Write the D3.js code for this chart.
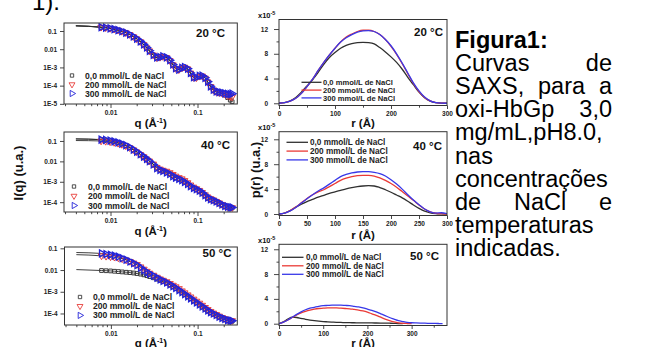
<!DOCTYPE html>
<html><head><meta charset="utf-8">
<script src="https://cdn.jsdelivr.net/npm/d3@7"></script>
<style>
body{margin:0;background:#fff;}
svg{display:block;}
text{font-family:"Liberation Sans",Arial,Helvetica,sans-serif;}
</style></head>
<body>
<svg id="chart" width="645" height="347"></svg>
<script>
// ---------------- DATA ----------------
const SERIES_NAMES = ["0,0 mmol/L de NaCl", "200 mmol/L de NaCl", "300 mmol/L de NaCl"];
const TEMPS = ["20 °C", "40 °C", "50 °C"];

// SAXS scattering vector (Å^-1)
const Q = [0.0078,0.0088,0.0099,0.011,0.0122,0.0135,0.015,0.0166,0.0183,0.020,0.022,0.024,0.026,0.028,0.031,0.034,0.037,0.040,0.044,0.048,0.052,0.056,0.061,0.066,0.071,0.077,0.083,0.090,0.097,0.105,0.113,0.122,0.131,0.141,0.152,0.164,0.177,0.191,0.206,0.222,0.238,0.250];
const FIT_Q = 0.004;

const I20_0   = [0.160,0.150,0.138,0.125,0.111,0.096,0.080,0.064,0.049,0.037,0.026,0.018,0.012,0.0080,0.0048,0.0034,0.0036,0.0040,0.0035,0.0024,0.0014,0.00088,0.00074,0.00092,0.00102,0.00082,0.00048,0.00028,0.00027,0.00033,0.00034,0.00026,0.00016,0.000088,0.000056,0.000044,0.000040,0.000037,0.000030,0.000022,0.000016,0.000013];
const I20_200 = [0.161,0.151,0.139,0.126,0.111,0.096,0.080,0.064,0.049,0.037,0.026,0.018,0.012,0.0081,0.0048,0.0034,0.0036,0.0040,0.0035,0.0024,0.0014,0.00088,0.00075,0.00093,0.00103,0.00083,0.00049,0.00028,0.00027,0.00033,0.00034,0.00026,0.00016,0.00009,0.000058,0.000046,0.000042,0.000039,0.000034,0.000028,0.000025,0.000024];
const I20_300 = [0.162,0.152,0.140,0.127,0.112,0.097,0.081,0.065,0.050,0.038,0.027,0.0185,0.0124,0.0082,0.0049,0.0035,0.0037,0.0041,0.0036,0.0025,0.00145,0.0009,0.00076,0.00094,0.00105,0.00085,0.0005,0.00029,0.00028,0.00034,0.00035,0.00027,0.000165,0.000092,0.00006,0.000048,0.000044,0.000042,0.000038,0.000035,0.000034,0.000036];
const I0_20 = [0.190, 0.193, 0.196];

const I40_0   = [0.115,0.110,0.102,0.093,0.083,0.072,0.060,0.048,0.037,0.029,0.022,0.017,0.013,0.0102,0.0072,0.0048,0.0039,0.0034,0.0030,0.0025,0.0020,0.0016,0.0014,0.00122,0.00100,0.00078,0.00060,0.00049,0.00043,0.00036,0.00028,0.00021,0.00016,0.000135,0.00012,0.000104,0.000088,0.000074,0.000064,0.000058,0.000054,0.000052];
const I40_200 = [0.100,0.096,0.091,0.085,0.077,0.068,0.058,0.047,0.037,0.029,0.022,0.017,0.013,0.0103,0.0074,0.0051,0.0042,0.0037,0.0033,0.0028,0.0023,0.0019,0.0016,0.0014,0.00115,0.0009,0.0007,0.00055,0.00046,0.00038,0.0003,0.00023,0.00018,0.00015,0.00013,0.00011,0.000093,0.000078,0.000067,0.00006,0.000056,0.000054];
const I40_300 = [0.117,0.112,0.104,0.095,0.085,0.074,0.062,0.050,0.038,0.030,0.0225,0.0172,0.0132,0.0102,0.0071,0.0047,0.0038,0.0034,0.0029,0.0024,0.0019,0.0016,0.0014,0.0012,0.00098,0.00078,0.00061,0.0005,0.00044,0.00037,0.00029,0.00022,0.00017,0.00014,0.000125,0.00011,0.000092,0.000078,0.000066,0.00006,0.000056,0.000055];
const I0_40 = [0.125, 0.105, 0.127];

const I50_0   = [0.0095,0.0093,0.0091,0.0088,0.0085,0.0082,0.0079,0.0076,0.0073,0.0069,0.0065,0.0060,0.0055,0.0050,0.0044,0.0038,0.0033,0.0029,0.0025,0.0021,0.0017,0.0014,0.00115,0.00092,0.00076,0.0006,0.00048,0.00038,0.00031,0.00025,0.0002,0.00016,0.00013,0.00011,0.000095,0.00008,0.000068,0.00006,0.000053,0.000048,0.000045,0.000044];
const I50_200 = [0.045,0.043,0.041,0.039,0.036,0.033,0.029,0.025,0.021,0.018,0.014,0.011,0.0088,0.0072,0.0058,0.0047,0.0039,0.0034,0.0029,0.0024,0.002,0.0017,0.0014,0.0011,0.0009,0.00072,0.00058,0.00046,0.00037,0.0003,0.00024,0.00019,0.000152,0.000125,0.000105,0.00009,0.000076,0.000066,0.000058,0.000052,0.000048,0.000047];
const I50_300 = [0.058,0.054,0.050,0.046,0.041,0.035,0.030,0.025,0.021,0.017,0.013,0.0098,0.0081,0.0068,0.0055,0.0045,0.0037,0.0032,0.0027,0.0022,0.0018,0.0015,0.0012,0.00095,0.00078,0.00062,0.0005,0.0004,0.00032,0.00026,0.00021,0.00017,0.000138,0.000115,0.0001,0.000085,0.000072,0.000063,0.000056,0.00005,0.000047,0.000046];
const I0_50 = [0.0105, 0.051, 0.064];

// p(r) distance axis (Å)
const R = [0,10,20,30,40,50,60,70,80,90,100,110,120,130,140,150,160,170,180,190,200,210,220,230,240,250,260,270,280,290,300,310,320,330,340,350,360,370];

const P20_0   = [0,0.1,0.4,0.95,1.8,2.8,3.8,5.0,6.3,7.4,8.2,8.9,9.35,9.65,9.8,9.85,9.8,9.6,9.0,8.3,7.5,6.6,5.5,4.2,3.0,1.8,0.9,0.35,0.1,0.02,0];
const P20_200 = [0,0.1,0.35,0.8,1.6,2.7,3.9,5.3,6.6,7.8,8.9,9.9,10.7,11.2,11.6,11.8,11.8,11.6,11.1,10.3,9.2,7.9,6.4,4.8,3.2,1.9,0.95,0.38,0.1,0.02,0];
const P20_300 = [0,0.1,0.35,0.8,1.6,2.7,3.9,5.3,6.6,7.8,8.9,9.9,10.6,11.1,11.5,11.7,11.75,11.6,11.1,10.3,9.3,8.0,6.5,4.9,3.3,2.0,1.0,0.4,0.1,0.02,0];

const P40_0   = [0,0.15,0.55,1.1,1.6,2.0,2.35,2.7,3.0,3.3,3.55,3.8,4.05,4.25,4.4,4.5,4.55,4.5,4.25,3.9,3.5,3.05,2.6,2.05,1.45,0.9,0.45,0.2,0.08,0.03,0];
const P40_200 = [0,0.15,0.55,1.1,1.8,2.5,3.1,3.55,3.9,4.4,4.9,5.4,5.75,6.0,6.15,6.2,6.2,6.1,5.8,5.4,4.9,4.3,3.6,2.9,2.2,1.45,0.8,0.35,0.12,0.05,0];
const P40_300 = [0,0.15,0.5,1.05,1.75,2.45,3.1,3.7,4.2,4.8,5.4,6.0,6.35,6.6,6.75,6.8,6.8,6.7,6.5,6.1,5.5,4.8,4.0,3.1,2.25,1.5,0.8,0.35,0.15,0.2,0.05];

const P50_0   = [0,0.3,0.75,1.05,1.0,0.85,0.7,0.58,0.48,0.4,0.34,0.3,0.26,0.22,0.2,0.17,0.16,0.15,0.14,0.13,0.12,0.12,0.11,0.1,0.09,0.08,0.06,0.03,0.0];
const P50_200 = [0,0.25,0.6,1.0,1.4,1.75,2.0,2.2,2.35,2.45,2.5,2.55,2.55,2.55,2.5,2.45,2.4,2.3,2.2,2.05,1.85,1.6,1.35,1.05,0.75,0.5,0.3,0.15,0.07,0.03,0];
const P50_300 = [0,0.25,0.6,1.05,1.5,1.9,2.25,2.5,2.65,2.8,2.9,2.95,3.0,3.0,3.0,2.95,2.9,2.8,2.7,2.55,2.35,2.15,1.9,1.6,1.3,1.0,0.75,0.5,0.35,0.22,0.15,0.12,0.1,0.08,0.06,0.05,0.03,0.0];

// tick values / labels
const SAXS_X_MAJOR = [0.01, 0.1];
const SAXS_X_LABELS = ["0.01", "0.1"];
const SAXS_X_MINOR = [0.003,0.004,0.005,0.006,0.007,0.008,0.009,0.02,0.03,0.04,0.05,0.06,0.07,0.08,0.09,0.2];
const SAXS_Y_TICKS = [0.1, 0.01, 1e-3, 1e-4, 1e-5];
const SAXS_Y_LABELS = ["0.1", "0.01", "1E-3", "1E-4", "1E-5"];
const PR_Y_MAJOR = [0, 4, 8, 12];
const PR_Y_MINOR = [2, 6, 10];
const PR_X_TICKS_A = [0, 100, 200, 300];
const PR_X_MINOR_A = [50, 150, 250];
const PR_X_TICKS_B = [0, 50, 100, 150, 200, 250, 300];
const PR_X_TICKS_C = [0, 100, 200, 300];
const PR_X_MINOR_C = [50, 150, 250, 350];

const CAPTION = [
  {words:["Figura1:"], bold:true, justify:false},
  {words:["Curvas","de"], justify:true},
  {words:["SAXS,","para","a"], justify:true},
  {words:["oxi-HbGp","3,0"], justify:true},
  {words:["mg/mL,pH8.0,"], justify:false},
  {words:["nas"], justify:false},
  {words:["concentrações"], justify:false},
  {words:["de","NaCl","e"], justify:true},
  {words:["temperaturas"], justify:false},
  {words:["indicadas."], justify:false}
];

// ---------------- STYLE / LAYOUT ----------------
const COLORS = ["#3a3a3a", "#e8403c", "#2424d8"];
const STROKES = [1.0, 1.0, 1.3];
const LINE_COLORS = ["#303030", "#ea3a36", "#3838e8"];
const SYMS = [
  {type:d3.symbolSquare, size:14, rot:0},
  {type:d3.symbolTriangle, size:19, rot:180},
  {type:d3.symbolTriangle, size:21, rot:90}
];
const Q_DOMAIN = [0.00292, 0.2867];

const svg = d3.select("#chart");
const defs = svg.append("defs");

function txt(g, x, y, s, size, o = {}) {
  return g.append("text").attr("x", x).attr("y", y).text(s)
    .attr("font-size", size).attr("font-weight", o.bold ? "bold" : "normal")
    .attr("text-anchor", o.anchor || "start").attr("fill", o.fill || "#111");
}

function styleAxis(ax, size) {
  ax.select(".domain").remove();
  ax.selectAll("line").attr("stroke", "#333").attr("stroke-width", 0.9);
  ax.selectAll("text").attr("font-size", size).attr("font-weight", "bold")
    .attr("fill", "#222").attr("font-family", '"Liberation Sans",Arial,sans-serif');
}

const saxsPanels = [
  {box:[64,23,237.3,104], yDomain:[9.8e-6,0.275], nY:5, series:[I20_0,I20_200,I20_300], i0:I0_20,
   leg:{sx:72, tx:85, y:75.5, dy:9}, temp:{x:225, y:37}, title:127},
  {box:[64,132,237.3,212], yDomain:[3.3e-5,0.275], nY:4, series:[I40_0,I40_200,I40_300], i0:I0_40,
   leg:{sx:74, tx:88, y:186.5, dy:9.5}, temp:{x:230, y:149}, title:235},
  {box:[64.5,247,237.3,325], yDomain:[2.95e-5,0.115], nY:4, series:[I50_0,I50_200,I50_300], i0:I0_50,
   leg:{sx:80, tx:93, y:297, dy:9.2}, temp:{x:231.5, y:257}, title:347}
];

saxsPanels.forEach((p, i) => {
  const [x0, y0, x1, y1] = p.box;
  const x = d3.scaleLog().domain(Q_DOMAIN).range([x0, x1]);
  const y = d3.scaleLog().domain(p.yDomain).range([y1, y0]);
  const g = svg.append("g");
  const cid = "clipS" + i;
  defs.append("clipPath").attr("id", cid).append("rect")
    .attr("x", x0).attr("y", y0).attr("width", x1 - x0).attr("height", y1 - y0);
  const plot = g.append("g").attr("clip-path", `url(#${cid})`);
  const line = d3.line().x(d => x(d[0])).y(d => y(d[1])).curve(d3.curveMonotoneX);
  p.series.forEach((s, k) => {
    const pts = [[FIT_Q, p.i0[k]]].concat(Q.map((q, j) => [q, s[j]]));
    plot.append("path").datum(pts).attr("d", line).attr("fill", "none")
      .attr("stroke", "#2a2a2a").attr("stroke-width", 0.9);
  });
  p.series.forEach((s, k) => {
    const sy = SYMS[k];
    plot.append("g").selectAll("path").data(Q.map((q, j) => [q, s[j]])).join("path")
      .attr("d", d3.symbol().type(sy.type).size(sy.size))
      .attr("transform", d => `translate(${x(d[0])},${y(d[1])}) rotate(${sy.rot})`)
      .attr("fill", "none").attr("stroke", COLORS[k]).attr("stroke-width", STROKES[k]);
  });
  // frame
  g.append("rect").attr("x", x0).attr("y", y0).attr("width", x1 - x0).attr("height", y1 - y0)
    .attr("fill", "none").attr("stroke", "#333").attr("stroke-width", 1);
  // axes
  const yt = SAXS_Y_TICKS.slice(0, p.nY), yl = SAXS_Y_LABELS.slice(0, p.nY);
  styleAxis(g.append("g").attr("transform", `translate(${x0},0)`)
    .call(d3.axisLeft(y).tickValues(yt).tickFormat(d => yl[yt.indexOf(d)]).tickSize(4).tickPadding(3)), 6.5);
  styleAxis(g.append("g").attr("transform", `translate(0,${y1})`)
    .call(d3.axisBottom(x).tickValues(SAXS_X_MAJOR).tickFormat(d => SAXS_X_LABELS[SAXS_X_MAJOR.indexOf(d)]).tickSize(4).tickPadding(2.8)), 6.5);
  styleAxis(g.append("g").attr("transform", `translate(0,${y1})`)
    .call(d3.axisBottom(x).tickValues(SAXS_X_MINOR).tickFormat("").tickSize(2.2)), 6.5);
  // legend
  SERIES_NAMES.forEach((name, k) => {
    const ly = p.leg.y + k * p.leg.dy;
    const sy = SYMS[k];
    g.append("path").attr("d", d3.symbol().type(sy.type).size(sy.size * 0.8))
      .attr("transform", `translate(${p.leg.sx},${ly}) rotate(${sy.rot})`)
      .attr("fill", "none").attr("stroke", COLORS[k]).attr("stroke-width", 0.9);
    txt(g, p.leg.tx, ly + 3, name, 8.6, {bold:true, fill:"#222"});
  });
  txt(g, p.temp.x, p.temp.y, TEMPS[i], 11.5, {bold:true, anchor:"end", fill:"#111"});
  // x title
  const t = txt(g, (x0 + x1) / 2, p.title, "q (Å", 11.5, {bold:true, anchor:"middle"});
  t.append("tspan").attr("dy", -4).attr("font-size", 7).text("-1");
  t.append("tspan").attr("dy", 4).text(")");
});

// y title for SAXS
svg.append("text").attr("transform", "translate(23,173) rotate(-90)")
  .attr("text-anchor", "middle").attr("font-size", 13).attr("font-weight", "bold")
  .attr("fill", "#111").text("I(q) (u.a.)");

const prPanels = [
  {box:[279,19.5,447,105.5], xDomain:[0,300], yDomain:[-0.36,13.54], major:PR_X_TICKS_A, minor:PR_X_MINOR_A,
   series:[P20_0,P20_200,P20_300], leg:{lx0:301.5, lx1:321.5, tx:323, y:82.3, dy:7.8, fs:7.6}, temp:{x:443, y:35.5}, title:127},
  {box:[279,131.7,447,215.5], xDomain:[0,300], yDomain:[-0.24,13.22], major:PR_X_TICKS_B, minor:[],
   series:[P40_0,P40_200,P40_300], leg:{lx0:286.5, lx1:308, tx:310, y:142.3, dy:8.8, fs:8.2}, temp:{x:442, y:150}, title:238.5},
  {box:[279,244.3,447,325.5], xDomain:[0,380], yDomain:[-0.29,12.8], major:PR_X_TICKS_C, minor:PR_X_MINOR_C,
   series:[P50_0,P50_200,P50_300], leg:{lx0:282, lx1:303.5, tx:306, y:257.3, dy:8.5, fs:8.2}, temp:{x:439, y:260}, title:347}
];

prPanels.forEach((p, i) => {
  const [x0, y0, x1, y1] = p.box;
  const x = d3.scaleLinear().domain(p.xDomain).range([x0, x1]);
  const y = d3.scaleLinear().domain(p.yDomain).range([y1, y0]);
  const g = svg.append("g");
  const cid = "clipP" + i;
  defs.append("clipPath").attr("id", cid).append("rect")
    .attr("x", x0).attr("y", y0).attr("width", x1 - x0).attr("height", y1 - y0);
  const plot = g.append("g").attr("clip-path", `url(#${cid})`);
  const line = d3.line().x(d => x(d[0])).y(d => y(d[1])).curve(d3.curveMonotoneX);
  p.series.forEach((s, k) => {
    plot.append("path").datum(s.map((v, j) => [R[j], v])).attr("d", line)
      .attr("fill", "none").attr("stroke", LINE_COLORS[k]).attr("stroke-width", 1.3);
  });
  g.append("rect").attr("x", x0).attr("y", y0).attr("width", x1 - x0).attr("height", y1 - y0)
    .attr("fill", "none").attr("stroke", "#333").attr("stroke-width", 1);
  styleAxis(g.append("g").attr("transform", `translate(${x0},0)`)
    .call(d3.axisLeft(y).tickValues(PR_Y_MAJOR).tickFormat(d3.format("d")).tickSize(5).tickPadding(6)), 6.5);
  styleAxis(g.append("g").attr("transform", `translate(${x0},0)`)
    .call(d3.axisLeft(y).tickValues(PR_Y_MINOR).tickFormat("").tickSize(2.5)), 6.5);
  styleAxis(g.append("g").attr("transform", `translate(0,${y1})`)
    .call(d3.axisBottom(x).tickValues(p.major).tickFormat(d3.format("d")).tickSize(3.5).tickPadding(2.8)), 6.5);
  if (p.minor.length) styleAxis(g.append("g").attr("transform", `translate(0,${y1})`)
    .call(d3.axisBottom(x).tickValues(p.minor).tickFormat("").tickSize(2.2)), 6.5);
  // x10^-5
  const m = txt(g, 258, y0 - 1.5, "x10", 7.5, {bold:true});
  m.append("tspan").attr("dy", -3).attr("font-size", 5.5).text("-5");
  // legend
  SERIES_NAMES.forEach((name, k) => {
    const ly = p.leg.y + k * p.leg.dy;
    g.append("line").attr("x1", p.leg.lx0).attr("x2", p.leg.lx1).attr("y1", ly).attr("y2", ly)
      .attr("stroke", LINE_COLORS[k]).attr("stroke-width", 1.3);
    txt(g, p.leg.tx, ly + 2.8, name, p.leg.fs, {bold:true, fill:"#222"});
  });
  txt(g, p.temp.x, p.temp.y, TEMPS[i], 11.5, {bold:true, anchor:"end", fill:"#111"});
  txt(g, (x0 + x1) / 2, p.title, "r (Å)", 11.5, {bold:true, anchor:"middle"});
});

svg.append("text").attr("transform", "translate(260,170) rotate(-90)")
  .attr("text-anchor", "middle").attr("font-size", 13).attr("font-weight", "bold")
  .attr("fill", "#111").text("p(r) (u.a.)");

// caption
const cap = svg.append("g");
txt(cap, 32, 10, "1).", 24, {fill:"#000"});
const CAP_LEFT = 455, CAP_RIGHT = 612, CAP_TOP = 48, CAP_LH = 23.1, CAP_FS = 23.5;
CAPTION.forEach((ln, li) => {
  const yb = CAP_TOP + li * CAP_LH;
  const nodes = ln.words.map(w => txt(cap, 0, yb, w, CAP_FS, {bold:ln.bold, fill:"#000"}));
  const widths = nodes.map(n => n.node().getComputedTextLength());
  if (ln.justify && nodes.length > 1) {
    const total = d3.sum(widths);
    const gap = (CAP_RIGHT - CAP_LEFT - total) / (nodes.length - 1);
    let cx = CAP_LEFT;
    nodes.forEach((n, k) => { n.attr("x", cx); cx += widths[k] + gap; });
  } else {
    let cx = CAP_LEFT;
    nodes.forEach((n, k) => { n.attr("x", cx); cx += widths[k] + 6.7; });
  }
});
</script>
</body></html>
